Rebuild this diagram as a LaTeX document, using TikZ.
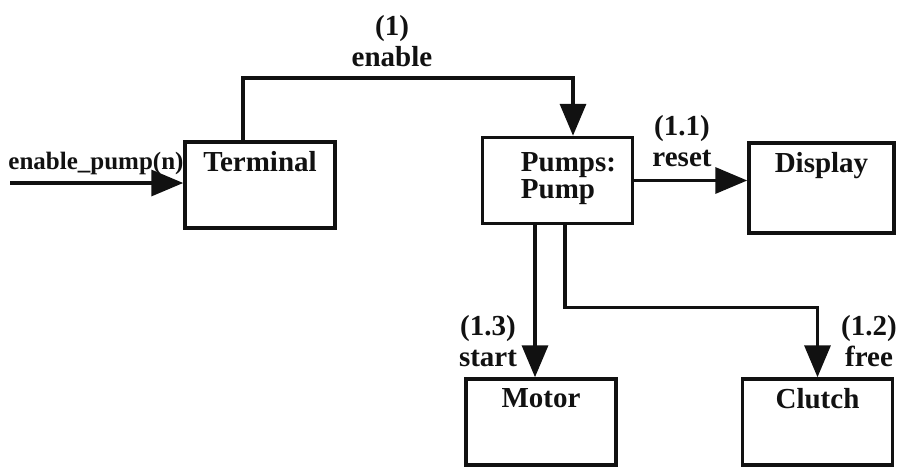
\documentclass[tikz,border=0pt]{standalone}
\usepackage{fontspec}
\setmainfont{Liberation Serif}
\usepackage{xcolor}
\definecolor{InkBlack}{HTML}{111111}
\usetikzlibrary{arrows.meta, positioning}

\begin{document}
\begin{tikzpicture}[x=1pt, y=-1pt,
    every node/.style={font=\fontsize{29}{31}\selectfont\bfseries, color=InkBlack},
    box/.style={draw=InkBlack, line width=3.5pt, minimum width=150pt, minimum height=86pt, inner sep=0pt},
    boxtext/.style={anchor=north, inner sep=0pt, yshift=-11pt},
    flow/.style={draw=InkBlack, line width=3.5pt, -{Triangle[length=32pt, width=26pt]}},
    msg/.style={align=center, inner sep=0pt}]
  \useasboundingbox (0,0) rectangle (905,466);

  % Objects
  \node[box, label={[boxtext]north:Terminal}] (term) at (260,185) {};
  \node[box, label={[boxtext, yshift=-6pt, xshift=11pt, align=left, font=\fontsize{29}{24}\selectfont\bfseries]north:{Pumps:\\Pump}}] (pump) at (557.5,180.5) {};
  \node[box, minimum width=145pt, minimum height=90pt, label={[boxtext]north:Display}] (disp) at (821.5,188) {};
  \node[box, label={[boxtext]north:Motor}] (motor) at (541,422) {};
  \node[box, label={[boxtext]north:Clutch}] (clutch) at (817.5,422) {};

  % Messages
  \coordinate (src) at (10,183);
  \draw[flow] (src) -- (src -| term.west);
  \draw[flow] ([xshift=-17pt]term.north) |- ([xshift=15.5pt, yshift=58pt]pump.north) -- ([xshift=15.5pt]pump.north);
  \draw[flow] (pump.east) -- (pump.east -| disp.west);
  \draw[flow] ([xshift=-22.5pt]pump.south) -- ([xshift=-22.5pt]pump.south |- motor.north);
  \draw[flow] ([xshift=7.5pt]pump.south) |- ([yshift=70pt]clutch.north) -- (clutch.north);

  % Labels
  \node[msg, font=\fontsize{25}{27}\selectfont\bfseries] (lin) at (96,163) {enable\_pump(n)};
  \node[msg] (lenable) at (392,41) {(1)\\enable};
  \node[msg] (lreset) at (682,141) {(1.1)\\reset};
  \node[msg] (lstart) at (488,341) {(1.3)\\start};
  \node[msg] (lfree) at (869,341) {(1.2)\\free};
\end{tikzpicture}
\end{document}
